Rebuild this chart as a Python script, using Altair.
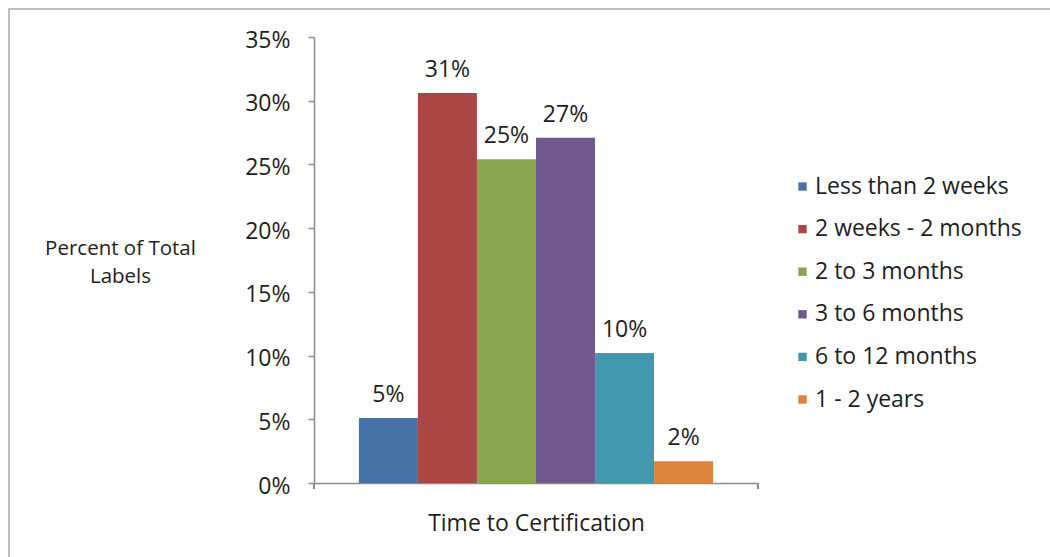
import altair as alt
import pandas as pd

# Share of labels by time taken to reach certification
periods = [
    "Less than 2 weeks",
    "2 weeks - 2 months",
    "2 to 3 months",
    "3 to 6 months",
    "6 to 12 months",
    "1 - 2 years",
]
shares = [0.051, 0.306, 0.254, 0.271, 0.102, 0.017]
palette = ["#4572A7", "#AA4643", "#89A54E", "#71588F", "#4198AF", "#DB843D"]
y_ticks = [0, 0.05, 0.10, 0.15, 0.20, 0.25, 0.30, 0.35]

df = pd.DataFrame({"period": periods, "share": shares})

FONT = "Open Sans"
INK = "#1e1e1e"
AXIS_GREY = "#8c8c8c"
FS = 23

W, H = 444, 446
LEFT, TOP = 314, 37

base = alt.Chart(df)

bars = base.mark_bar(size=59).encode(
    x=alt.X(
        "period:N",
        sort=periods,
        scale=alt.Scale(paddingInner=0, paddingOuter=0.76),
        axis=alt.Axis(
            labels=False,
            ticks=False,
            title="Time to Certification",
            titleFont=FONT,
            titleFontSize=FS,
            titleFontWeight="normal",
            titleColor=INK,
            titlePadding=29,
            domainColor=AXIS_GREY,
            domainWidth=1.5,
        ),
    ),
    y=alt.Y(
        "share:Q",
        scale=alt.Scale(domain=[0, 0.35], nice=False),
        axis=alt.Axis(
            values=y_ticks,
            format=".0%",
            grid=False,
            labelFont=FONT,
            labelFontSize=FS,
            labelColor=INK,
            labelPadding=18,
            labelOffset=3,
            tickSize=6,
            tickColor=AXIS_GREY,
            tickWidth=1.5,
            domainColor=AXIS_GREY,
            domainWidth=1.5,
            title=["Percent of Total", "Labels"],
            titleFont=FONT,
            titleFontSize=20.5,
            titleFontWeight="normal",
            titleColor=INK,
            titleAngle=0,
            titleAlign="center",
            titleBaseline="middle",
            titleLineHeight=28,
            titleX=-194,
            titleY=211,
        ),
    ),
    color=alt.Color(
        "period:N",
        sort=periods,
        scale=alt.Scale(domain=periods, range=palette),
        legend=alt.Legend(
            title=None,
            orient="none",
            legendX=477,
            legendY=138,
            padding=0,
            symbolType="square",
            symbolSize=70,
            symbolStrokeWidth=0,
            symbolOpacity=1,
            labelFont=FONT,
            labelFontSize=FS,
            labelColor=INK,
            labelOffset=1,
            rowPadding=18.6,
            labelLimit=400,
        ),
    ),
)

labels = base.mark_text(
    font=FONT, fontSize=FS, color=INK, baseline="alphabetic", dy=-16
).encode(
    x=alt.X("period:N", sort=periods),
    y="share:Q",
    text=alt.Text("share:Q", format=".0%"),
)

# end ticks on the category axis
end_left = base.mark_rule(color=AXIS_GREY, strokeWidth=1.5).encode(
    x=alt.value(0), y=alt.value(H), y2=alt.value(H + 6)
)
end_right = base.mark_rule(color=AXIS_GREY, strokeWidth=1.5).encode(
    x=alt.value(W), y=alt.value(H), y2=alt.value(H + 6)
)

# outer frame of the figure
frame = alt.Chart(alt.Data(values=[{}])).mark_rect(
    fill="transparent", stroke="#a8a8a8", strokeWidth=1.5
).encode(
    x=alt.value(-LEFT + 9),
    x2=alt.value(W + 400),
    y=alt.value(-TOP + 9),
    y2=alt.value(H + 200),
)

chart = (
    alt.layer(frame, bars, labels, end_left, end_right)
    .properties(
        width=W,
        height=H,
        autosize=alt.AutoSizeParams(type="none"),
        padding={"left": LEFT, "top": TOP, "right": 1050 - LEFT - W, "bottom": 557 - TOP - H},
        background="white",
    )
    .configure_view(stroke=None)
)

chart.save("out.html", embed_options={"renderer": "svg", "actions": False})
